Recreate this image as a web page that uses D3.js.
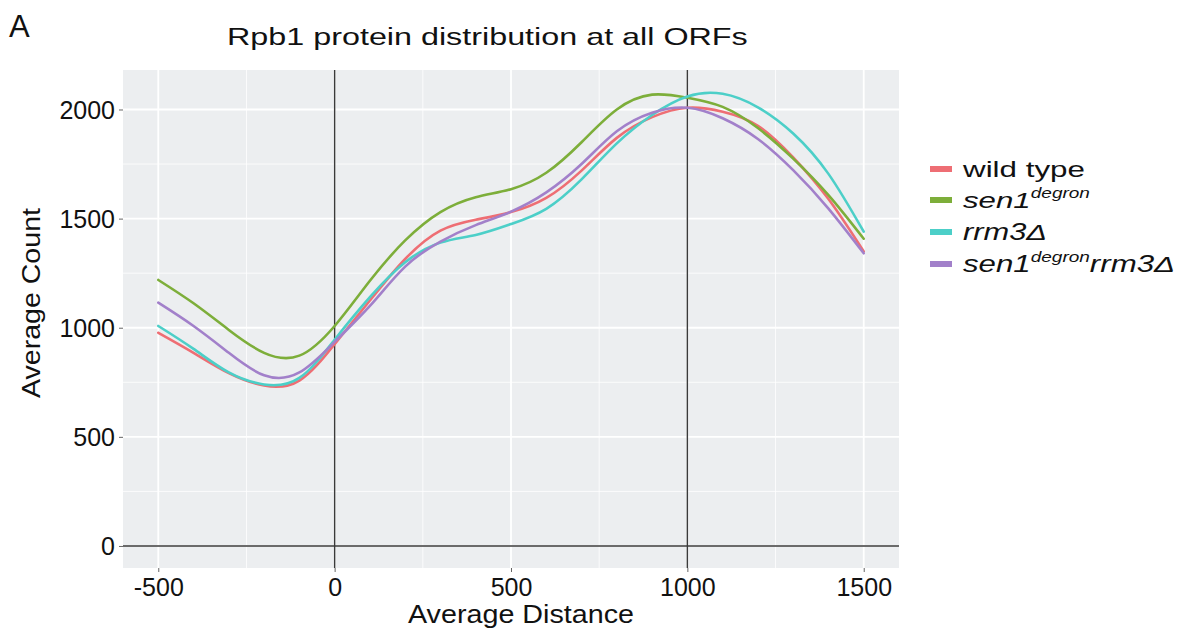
<!DOCTYPE html>
<html>
<head>
<meta charset="utf-8">
<script src="https://cdn.jsdelivr.net/npm/d3@7"></script>
<style>
  html, body { margin: 0; padding: 0; background: #ffffff; }
  svg { display: block; font-family: "Liberation Sans", Arial, Helvetica, sans-serif; }
</style>
</head>
<body>
<svg id="chart" width="1186" height="636"></svg>
<script>
// ---- data ----
const distances = [-500, -400, -300, -200, -100, 0, 100, 200, 300, 400, 500, 600, 700, 800, 900, 1000, 1100, 1200, 1300, 1400, 1500];
const wildType   = [977, 885, 792, 735, 758, 925, 1125, 1315, 1445, 1495, 1530, 1595, 1720, 1870, 1965, 2008, 1990, 1925, 1780, 1590, 1350];
const sen1Degron = [1219, 1112, 990, 885, 872, 1008, 1215, 1400, 1530, 1598, 1635, 1710, 1850, 2000, 2068, 2054, 2012, 1915, 1775, 1608, 1408];
const rrm3       = [1008, 903, 795, 740, 770, 945, 1140, 1300, 1390, 1425, 1475, 1545, 1680, 1845, 1975, 2060, 2072, 2010, 1890, 1705, 1440];
const sen1Rrm3   = [1115, 1008, 885, 782, 795, 935, 1100, 1280, 1395, 1470, 1532, 1620, 1750, 1900, 1985, 2008, 1960, 1865, 1722, 1546, 1341];
const xTicks = [-500, 0, 500, 1000, 1500];
const yTicks = [0, 500, 1000, 1500, 2000];
const xMinor = [-250, 250, 750, 1250];
const yMinor = [250, 750, 1250, 1750];
const refX = [0, 1000];
const refY = [0];
const titleText = "Rpb1 protein distribution at all ORFs";
const panelLetter = "A";
const xTitle = "Average Distance";
const yTitle = "Average Count";

const series = [
  { key: "wt",   values: wildType,   color: "#EE6E74" },
  { key: "sen1", values: sen1Degron, color: "#7DAE3A" },
  { key: "rrm3", values: rrm3,       color: "#4CCFC8" },
  { key: "dbl",  values: sen1Rrm3,   color: "#A280CA" }
];
// legend labels: parts [text, superscript?]
const legendLabels = [
  { parts: [["wild type", false]], italic: false, w: 122 },
  { parts: [["sen1", false], ["degron", true]], italic: true, w: 127 },
  { parts: [["rrm3\u0394", false]], italic: true, w: 84 },
  { parts: [["sen1", false], ["degron", true], ["rrm3\u0394", false]], italic: true, w: 212 }
];

// ---- layout ----
const svg = d3.select("#chart");
const P = { left: 123, right: 899, top: 70, bottom: 568 };

const x = d3.scaleLinear().domain([-600, 1600]).range([P.left, P.right]);
const y = d3.scaleLinear().domain([-101, 2181]).range([P.bottom, P.top]);

// panel background
svg.append("rect")
  .attr("x", P.left).attr("y", P.top)
  .attr("width", P.right - P.left).attr("height", P.bottom - P.top)
  .attr("fill", "#ECEEF0");

const grid = svg.append("g");
grid.selectAll(".xmin").data(xMinor).enter().append("line")
  .attr("x1", d => x(d)).attr("x2", d => x(d))
  .attr("y1", P.top).attr("y2", P.bottom)
  .attr("stroke", "#ffffff").attr("stroke-width", 0.8);
grid.selectAll(".ymin").data(yMinor).enter().append("line")
  .attr("x1", P.left).attr("x2", P.right)
  .attr("y1", d => y(d)).attr("y2", d => y(d))
  .attr("stroke", "#ffffff").attr("stroke-width", 0.8);
grid.selectAll(".xmaj").data(xTicks).enter().append("line")
  .attr("x1", d => x(d)).attr("x2", d => x(d))
  .attr("y1", P.top).attr("y2", P.bottom)
  .attr("stroke", "#ffffff").attr("stroke-width", 1.8);
grid.selectAll(".ymaj").data(yTicks).enter().append("line")
  .attr("x1", P.left).attr("x2", P.right)
  .attr("y1", d => y(d)).attr("y2", d => y(d))
  .attr("stroke", "#ffffff").attr("stroke-width", 1.8);

// reference lines
svg.append("g").selectAll("line").data(refX).enter().append("line")
  .attr("x1", d => x(d)).attr("x2", d => x(d))
  .attr("y1", P.top).attr("y2", P.bottom)
  .attr("stroke", "#3a3a3a").attr("stroke-width", 1.4);
svg.append("g").selectAll("line").data(refY).enter().append("line")
  .attr("x1", P.left).attr("x2", P.right)
  .attr("y1", d => y(d)).attr("y2", d => y(d))
  .attr("stroke", "#3a3a3a").attr("stroke-width", 1.4);

// curves
const line = d3.line()
  .x((d, i) => x(distances[i]))
  .y(d => y(d))
  .curve(d3.curveNatural);
svg.append("g").selectAll("path").data(series).enter().append("path")
  .attr("d", d => line(d.values))
  .attr("fill", "none")
  .attr("stroke", d => d.color)
  .attr("stroke-width", 2.6)
  .attr("stroke-linecap", "round");

// axes
const xAxis = d3.axisBottom(x).tickValues(xTicks).tickSize(4).tickPadding(4).tickFormat(d => String(d));
const yAxis = d3.axisLeft(y).tickValues(yTicks).tickSize(4).tickPadding(4).tickFormat(d => String(d));
const gx = svg.append("g").attr("transform", `translate(0,${P.bottom})`).call(xAxis);
const gy = svg.append("g").attr("transform", `translate(${P.left},0)`).call(yAxis);
[gx, gy].forEach(g => {
  g.select(".domain").remove();
  g.selectAll(".tick line").attr("stroke", "#666").attr("stroke-width", 1);
  g.selectAll(".tick text").attr("fill", "#111").attr("font-size", 25)
    .attr("font-family", "'Liberation Sans', Arial, sans-serif");
});
gx.selectAll(".tick text").attr("dy", "0.8em");
gy.selectAll(".tick text").attr("dy", "0.36em");

// titles
svg.append("text").attr("x", 9).attr("y", 37)
  .attr("font-size", 31).attr("fill", "#111").text(panelLetter);

function stretchedText(cx, cy, txt, size, targetW, anchor, rotate) {
  const g = svg.append("g");
  const t = g.append("text").attr("font-size", size).attr("fill", "#111").text(txt);
  const w = t.node().getComputedTextLength();
  const sx = targetW / w;
  let dx = anchor === "middle" ? -w / 2 : 0;
  t.attr("x", dx);
  g.attr("transform", `translate(${cx},${cy}) rotate(${rotate || 0}) scale(${sx},1)`);
  return g;
}
stretchedText(487.5, 45, titleText, 24, 521, "middle");
stretchedText(521, 623, xTitle, 25, 226, "middle");
stretchedText(40, 303, yTitle, 25, 190, "middle", -90);

// legend
const legend = svg.append("g");
const rowY = [177, 208, 240, 272];
series.forEach((s, i) => {
  legend.append("rect")
    .attr("x", 930).attr("y", rowY[i] - 11)
    .attr("width", 22).attr("height", 6)
    .attr("fill", s.color);
  const g = legend.append("g");
  const t = g.append("text").attr("font-size", 23).attr("fill", "#111")
    .attr("font-style", legendLabels[i].italic ? "italic" : "normal");
  legendLabels[i].parts.forEach(([txt, sup], j) => {
    const ts = t.append("tspan").text(txt);
    if (sup) ts.attr("font-size", 14).attr("dy", -10);
    else if (j > 0 && legendLabels[i].parts[j - 1][1]) ts.attr("dy", 10);
  });
  const w = t.node().getComputedTextLength();
  const sx = legendLabels[i].w / w;
  g.attr("transform", `translate(963,${rowY[i]}) scale(${sx},1)`);
});
</script>
</body>
</html>
